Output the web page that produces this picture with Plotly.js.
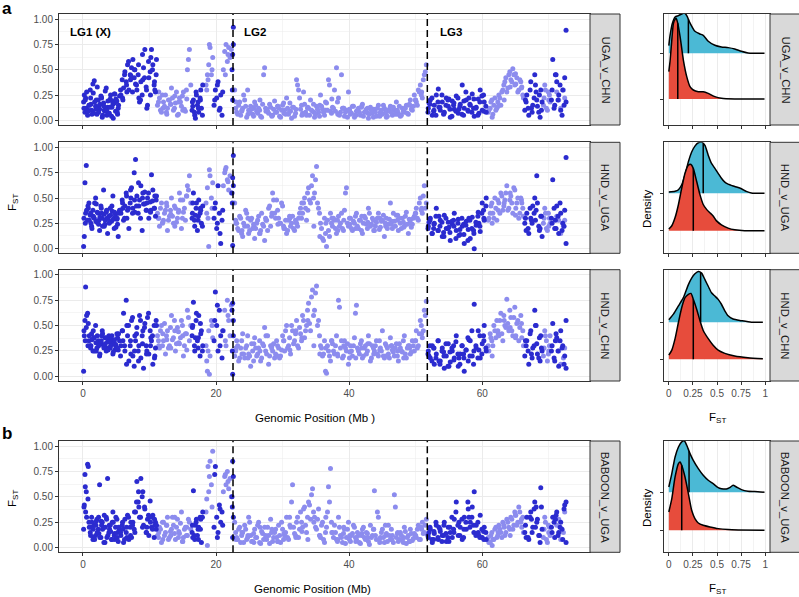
<!DOCTYPE html>
<html><head><meta charset="utf-8">
<script src="https://cdn.plot.ly/plotly-3.0.1.min.js"></script>
<style>html,body{margin:0;padding:0;background:#fff}#chart{width:799px;height:597px}</style>
</head><body><div id="chart"></div>
<script>
// ---- shared genomic window positions (Mb) ----
const darkPos=[0.1,0.2,0.3,0.4,0.5,0.7,0.9,1.1,1.3,1.5,1.7,1.9,2.1,2.3,2.5,2.7,2.9,3.1,3.3,3.5,3.7,3.9,4.1,4.3,4.5,4.7,4.9,5.1,5.3,5.5,0.8,1.2,1.6,2.0,2.4,2.8,3.2,3.6,4.0,4.4,4.8,5.2,
5.7,5.9,6.1,6.3,6.5,6.7,6.9,7.1,7.3,7.5,7.7,7.9,8.1,8.3,8.5,8.7,8.9,9.1,9.3,9.5,9.7,9.9,10.1,10.3,10.5,10.7,10.9,11.0,6.0,6.6,7.2,7.8,8.4,9.0,9.6,10.2,10.8,
16.4,16.6,16.8,17.0,17.2,17.4,17.6,17.8,18.0,16.5,16.9,17.3,17.7,
19.7,19.9,20.1,20.3,20.5,20.7,20.9,19.8,20.2,20.6,21.0,
22.4,22.5,22.6,22.5,22.6,22.45,
51.9,52.2,52.5,52.8,53.1,53.4,53.7,54.0,54.3,54.6,54.9,55.2,55.5,55.8,56.1,56.4,56.7,57.0,57.3,57.6,57.9,58.2,58.5,58.8,59.1,59.4,59.7,60.0,60.3,60.6,52.0,52.7,53.5,54.2,55.0,55.7,56.5,57.2,58.0,58.7,59.5,60.2,
66.4,66.7,67.0,67.3,67.6,67.9,68.2,68.5,68.8,69.0,66.6,67.4,68.1,68.7,
70.4,70.6,70.9,71.2,71.5,71.8,72.1,72.4,72.6,72.6,71.0,72.0];
const darkPos2=[0.15,0.35,0.55,0.75,0.95,1.15,1.35,1.55,1.75,1.95,2.15,2.35,2.55,2.75,2.95,3.15,3.35,3.55,3.75,3.95,4.15,4.35,4.55,4.75,4.95,5.15,5.35,
5.65,5.95,6.25,6.55,6.85,7.15,7.45,7.75,8.05,8.35,8.65,8.95,9.25,9.55,9.85,10.15,10.45,10.75,11.05,
51.85,52.15,52.45,52.75,53.05,53.35,53.65,53.95,54.25,54.55,54.85,55.15,55.45,55.75,56.05,56.35,56.65,56.95,57.25,57.55,57.85,58.15,58.45,58.75,59.05,59.35,59.65,59.95,60.25,60.55,
66.5,66.9,67.2,67.5,67.8,68.0,68.3,68.6,68.9,70.5,70.8,71.1,71.4,71.7,72.3,
16.45,16.75,17.05,17.35,17.65,17.95];
const lightPos=[11.2,11.5,11.8,12.1,12.4,12.7,13.0,13.3,13.6,13.9,14.2,14.5,14.8,15.1,15.4,15.7,16.0,16.2,11.4,12.0,12.6,13.2,13.8,14.4,15.0,15.6,
18.5,18.7,18.9,19.1,19.3,19.5,18.6,19.0,19.4,18.8,
21.1,21.3,21.5,21.7,21.9,22.1,22.3,21.4,21.8,
22.8,23.1,23.4,23.7,24.0,24.3,24.6,24.9,25.2,25.5,25.8,26.1,26.4,26.7,27.0,27.3,27.6,27.9,28.2,28.5,
28.8,29.1,29.4,29.7,30.0,30.3,30.6,30.9,31.2,31.5,31.8,32.1,32.4,32.7,33.0,33.3,33.6,33.9,34.2,34.5,
34.8,35.1,35.4,35.7,36.0,36.3,36.6,36.9,37.2,37.5,37.8,38.1,38.4,38.7,39.0,39.3,39.6,39.9,40.2,40.5,
40.8,41.1,41.4,41.7,42.0,42.3,42.6,42.9,43.2,43.5,43.8,44.1,44.4,44.7,45.0,45.3,45.6,45.9,46.2,46.5,
46.8,47.1,47.4,47.7,48.0,48.3,48.6,48.9,49.2,49.5,49.8,50.1,50.4,50.7,51.0,51.3,51.6,
23.0,23.9,24.8,25.7,26.6,27.5,28.4,29.3,30.2,31.1,32.0,32.9,33.8,34.7,35.6,36.5,37.4,38.3,39.2,40.1,41.0,41.9,42.8,43.7,44.6,45.5,46.4,47.3,48.2,49.1,50.0,50.9,
61.0,61.3,61.6,61.9,62.2,62.5,62.8,63.1,63.4,63.7,64.0,64.3,64.6,64.9,65.2,65.5,65.8,66.1,61.5,62.4,63.3,64.2,65.0,65.9,
69.2,69.5,69.8,70.1,69.4,70.0,71.2,71.8,72.4];
const lightPos2=[11.35,11.65,11.95,12.25,12.55,12.85,13.15,13.45,13.75,14.05,14.35,14.65,14.95,15.25,15.55,15.85,
22.95,23.25,23.55,23.85,24.15,24.45,24.75,25.05,25.35,25.65,25.95,26.25,26.55,26.85,27.15,27.45,27.75,28.05,28.35,28.65,
28.95,29.25,29.55,29.85,30.15,30.45,30.75,31.05,31.35,31.65,31.95,32.25,32.55,32.85,33.15,33.45,33.75,34.05,34.35,34.65,
34.95,35.25,35.55,35.85,36.15,36.45,36.75,37.05,37.35,37.65,37.95,38.25,38.55,38.85,39.15,39.45,39.75,40.05,40.35,40.65,
40.95,41.25,41.55,41.85,42.15,42.45,42.75,43.05,43.35,43.65,43.95,44.25,44.55,44.85,45.15,45.45,45.75,46.05,46.35,46.65,
46.95,47.25,47.55,47.85,48.15,48.45,48.75,49.05,49.35,49.65,49.95,50.25,50.55,50.85,51.15,51.45,
60.9,61.2,61.45,61.75,62.05,62.35,62.65,62.95,63.25,63.55,63.85,64.15,64.45,64.75,65.05,65.35,65.65,65.95,66.2,
69.3,69.65,69.95,70.2,71.5,72.2];

// ---- FST per comparison (dark scaffolds / light scaffolds) ----
const ugaChnDark=[0.18,0.25,0.08,0.22,0.12,0.05,0.15,0.30,0.10,0.36,0.39,0.14,0.06,0.20,0.11,0.24,0.03,0.17,0.09,0.32,0.13,0.07,0.21,0.04,0.16,0.26,0.09,0.19,0.12,0.24,0.10,0.16,0.07,0.20,0.14,0.22,0.10,0.05,0.13,0.19,0.26,0.06,
0.25,0.40,0.32,0.48,0.38,0.55,0.30,0.45,0.52,0.60,0.42,0.36,0.30,0.45,0.18,0.38,0.25,0.52,0.70,0.33,0.15,0.42,0.48,0.70,0.55,0.35,0.28,0.45,0.20,0.28,0.44,0.50,0.22,0.40,0.12,0.62,0.30,
0.10,0.20,0.05,0.28,0.15,0.08,0.22,0.12,0.35,0.14,0.02,0.18,0.30,
0.15,0.30,0.22,0.38,0.10,0.25,0.05,0.20,0.35,0.12,0.28,
0.50,0.65,0.92,0.20,0.75,0.30,
0.12,0.20,0.05,0.15,0.25,0.31,0.10,0.18,0.08,0.22,0.14,0.03,0.19,0.11,0.24,0.07,0.16,0.35,0.12,0.20,0.09,0.15,0.26,0.04,0.13,0.21,0.30,0.10,0.18,0.08,0.17,0.09,0.13,0.06,0.21,0.15,0.11,0.05,0.22,0.12,0.07,0.25,
0.10,0.25,0.05,0.38,0.15,0.45,0.20,0.08,0.30,0.18,0.18,0.12,0.28,0.03,
0.20,0.60,0.15,0.38,0.25,0.10,0.30,0.42,0.89,0.18,0.45,0.05];
const ugaChnDark2=[0.12,0.20,0.28,0.09,0.15,0.22,0.06,0.27,0.18,0.11,0.33,0.08,0.16,0.23,0.05,0.14,0.29,0.10,0.19,0.07,0.25,0.13,0.02,0.17,0.21,0.08,0.15,
0.30,0.22,0.45,0.35,0.58,0.40,0.28,0.50,0.35,0.55,0.20,0.65,0.42,0.30,0.58,0.25,0.50,0.38,0.60,
0.08,0.16,0.22,0.10,0.05,0.18,0.13,0.25,0.07,0.15,0.20,0.11,0.04,0.17,0.09,0.22,0.14,0.06,0.19,0.28,0.10,0.16,0.08,0.21,0.12,0.05,0.18,0.24,0.09,0.14,
0.20,0.12,0.30,0.08,0.22,0.35,0.14,0.25,0.10,0.30,0.12,0.45,0.20,0.35,0.15,
0.18,0.08,0.25,0.12,0.20,0.05];
const ugaChnLight=[0.15,0.22,0.08,0.18,0.25,0.12,0.20,0.32,0.10,0.17,0.05,0.22,0.14,0.28,0.09,0.50,0.70,0.35,0.28,0.12,0.06,0.16,0.24,0.18,0.10,0.21,
0.35,0.45,0.55,0.72,0.45,0.62,0.30,0.75,0.50,0.40,
0.50,0.68,0.75,0.58,0.72,0.62,0.70,0.45,0.65,
0.30,0.08,0.15,0.05,0.12,0.20,0.03,0.10,0.14,0.06,0.18,0.09,0.12,0.04,0.16,0.52,0.11,0.07,0.13,0.05,
0.19,0.08,0.12,0.03,0.15,0.10,0.22,0.06,0.09,0.13,0.04,0.40,0.30,0.11,0.07,0.16,0.05,0.12,0.20,0.09,
0.03,0.14,0.08,0.25,0.11,0.05,0.17,0.40,0.09,0.13,0.30,0.52,0.22,0.08,0.12,0.04,0.10,0.28,0.06,0.14,
0.03,0.09,0.12,0.05,0.16,0.08,0.11,0.02,0.13,0.07,0.10,0.04,0.15,0.08,0.06,0.12,0.03,0.09,0.14,0.05,
0.10,0.18,0.07,0.04,0.12,0.08,0.15,0.06,0.20,0.10,0.25,0.18,0.30,0.35,0.22,0.45,0.55,
0.18,0.10,0.06,0.12,0.20,0.09,0.04,0.14,0.07,0.17,0.11,0.05,0.13,0.08,0.15,0.10,0.21,0.06,0.12,0.09,0.05,0.14,0.07,0.11,0.04,0.10,0.13,0.06,0.09,0.15,0.20,0.28,
0.10,0.18,0.06,0.22,0.12,0.25,0.15,0.30,0.38,0.28,0.45,0.40,0.51,0.35,0.42,0.30,0.38,0.25,0.03,0.14,0.20,0.33,0.46,0.32,
0.15,0.30,0.10,0.25,0.35,0.20,0.28,0.12,0.22];
const ugaChnLight2=[0.18,0.10,0.25,0.14,0.08,0.20,0.16,0.22,0.12,0.28,0.06,0.18,0.24,0.11,0.30,0.60,
0.12,0.06,0.18,0.09,0.25,0.14,0.30,0.08,0.11,0.04,0.15,0.07,0.10,0.03,0.45,0.12,0.09,0.16,0.05,0.11,
0.08,0.14,0.04,0.10,0.17,0.06,0.12,0.09,0.02,0.13,0.07,0.35,0.22,0.15,0.28,0.08,0.12,0.05,0.10,0.16,
0.06,0.11,0.04,0.14,0.08,0.18,0.10,0.35,0.07,0.12,0.09,0.18,0.05,0.45,0.12,0.08,0.03,0.11,0.07,0.14,
0.05,0.10,0.08,0.13,0.04,0.09,0.12,0.06,0.10,0.03,0.08,0.12,0.05,0.10,0.15,0.07,0.04,0.11,0.08,0.13,
0.06,0.10,0.14,0.05,0.09,0.12,0.07,0.16,0.11,0.14,0.20,0.15,0.28,0.25,0.40,0.48,
0.08,0.12,0.20,0.15,0.10,0.18,0.22,0.28,0.35,0.42,0.32,0.48,0.38,0.45,0.36,0.28,0.40,0.33,0.22,
0.22,0.12,0.28,0.18,0.20,0.30];

const hndUgaDark=[0.02,0.12,0.65,0.35,0.82,0.28,0.45,0.33,0.22,0.38,0.30,0.50,0.26,0.35,0.18,0.42,0.30,0.58,0.24,0.36,0.15,0.32,0.40,0.27,0.52,0.20,0.34,0.29,0.12,0.38,0.40,0.25,0.31,0.44,0.28,0.35,0.22,0.30,0.26,0.37,0.31,0.24,
0.35,0.48,0.28,0.42,0.55,0.38,0.20,0.45,0.60,0.40,0.75,0.88,0.52,0.35,0.48,0.62,0.18,0.44,0.56,0.38,0.50,0.30,0.46,0.73,0.58,0.40,0.32,0.48,0.40,0.30,0.50,0.36,0.42,0.55,0.45,0.38,0.52,
0.30,0.55,0.22,0.40,0.18,0.48,0.35,0.25,0.42,0.45,0.33,0.28,0.38,
0.30,0.45,0.20,0.62,0.35,0.05,0.28,0.40,0.25,0.15,0.38,
0.55,0.70,0.92,0.03,0.62,0.45,
0.22,0.30,0.15,0.25,0.40,0.18,0.28,0.12,0.33,0.20,0.26,0.08,0.24,0.35,0.18,0.29,0.14,0.22,0.05,0.27,0.19,0.10,0.31,0.00,0.23,0.36,0.17,0.45,0.28,0.50,0.26,0.20,0.32,0.16,0.21,0.28,0.13,0.24,0.30,0.18,0.25,0.38,
0.25,0.35,0.15,0.30,0.42,0.50,0.72,0.22,0.32,0.12,0.18,0.28,0.38,0.20,
0.30,0.68,0.20,0.42,0.15,0.35,0.25,0.38,0.90,0.05,0.28,0.18];
const hndUgaDark2=[0.30,0.25,0.38,0.42,0.28,0.35,0.20,0.32,0.45,0.27,0.36,0.24,0.31,0.40,0.22,0.34,0.28,0.38,0.30,0.25,0.33,0.42,0.29,0.36,0.21,0.30,0.35,
0.38,0.45,0.30,0.52,0.40,0.58,0.35,0.48,0.42,0.65,0.30,0.50,0.44,0.38,0.55,0.36,0.47,0.40,0.52,
0.20,0.28,0.15,0.24,0.32,0.18,0.22,0.26,0.12,0.30,0.20,0.16,0.27,0.22,0.10,0.25,0.19,0.30,0.14,0.23,0.08,0.28,0.20,0.15,0.26,0.32,0.22,0.35,0.30,0.42,
0.30,0.20,0.40,0.25,0.35,0.28,0.45,0.18,0.32,0.25,0.40,0.20,0.32,0.45,0.22,
0.35,0.28,0.45,0.32,0.40,0.22];
const hndUgaLight=[0.35,0.22,0.45,0.28,0.38,0.18,0.32,0.50,0.25,0.40,0.30,0.55,0.20,0.36,0.28,0.62,0.72,0.45,0.30,0.26,0.42,0.34,0.22,0.38,0.48,0.52,
0.45,0.60,0.02,0.72,0.50,0.65,0.35,0.78,0.40,0.30,
0.62,0.75,0.80,0.68,0.58,0.72,0.55,0.78,0.66,
0.45,0.25,0.18,0.30,0.12,0.22,0.35,0.15,0.28,0.20,0.10,0.25,0.32,0.18,0.24,0.08,0.28,0.40,0.22,0.55,
0.35,0.48,0.30,0.25,0.42,0.20,0.15,0.28,0.22,0.32,0.18,0.25,0.30,0.40,0.35,0.50,0.28,0.60,0.45,0.72,
0.55,0.81,0.40,0.25,0.10,0.30,0.02,0.18,0.35,0.22,0.28,0.15,0.32,0.25,0.20,0.38,0.60,0.22,0.30,0.18,
0.25,0.35,0.20,0.28,0.15,0.32,0.24,0.40,0.22,0.30,0.18,0.26,0.35,0.21,0.28,0.12,0.30,0.24,0.45,0.20,
0.27,0.33,0.18,0.25,0.30,0.22,0.36,0.15,0.28,0.24,0.32,0.40,0.28,0.50,0.35,0.62,0.45,
0.25,0.18,0.30,0.22,0.15,0.28,0.35,0.24,0.20,0.30,0.26,0.45,0.38,0.22,0.12,0.25,0.30,0.18,0.28,0.24,0.20,0.32,0.26,0.18,0.30,0.22,0.27,0.33,0.21,0.25,0.35,0.40,
0.30,0.42,0.35,0.50,0.28,0.45,0.55,0.38,0.48,0.62,0.40,0.52,0.35,0.58,0.45,0.30,0.50,0.40,0.25,0.38,0.45,0.55,0.33,0.48,
0.25,0.35,0.18,0.30,0.40,0.22,0.32,0.15,0.28];
const hndUgaLight2=[0.30,0.40,0.25,0.35,0.45,0.28,0.38,0.32,0.42,0.26,0.36,0.48,0.30,0.40,0.52,0.58,
0.28,0.20,0.32,0.15,0.25,0.38,0.22,0.18,0.30,0.24,0.20,0.28,0.15,0.35,0.22,0.30,0.18,0.42,0.32,0.48,
0.30,0.38,0.25,0.45,0.22,0.28,0.18,0.32,0.25,0.20,0.28,0.22,0.35,0.30,0.45,0.40,0.55,0.48,0.62,0.50,
0.68,0.45,0.35,0.20,0.08,0.15,0.28,0.12,0.25,0.30,0.20,0.28,0.22,0.35,0.18,0.55,0.25,0.30,0.20,0.27,
0.32,0.22,0.28,0.18,0.25,0.30,0.20,0.35,0.24,0.28,0.22,0.30,0.19,0.27,0.33,0.25,0.20,0.29,0.24,0.35,
0.22,0.28,0.30,0.20,0.26,0.32,0.24,0.29,0.21,0.30,0.35,0.30,0.45,0.38,0.52,0.40,
0.28,0.35,0.45,0.30,0.40,0.48,0.35,0.52,0.42,0.55,0.38,0.48,0.45,0.60,0.40,0.50,0.35,0.45,0.32,
0.30,0.20,0.35,0.25,0.28,0.22];

const hndChnDark=[0.05,0.40,0.55,0.88,0.48,0.62,0.35,0.30,0.42,0.25,0.38,0.50,0.28,0.35,0.20,0.32,0.45,0.30,0.38,0.25,0.34,0.40,0.28,0.36,0.22,0.33,0.30,0.42,0.26,0.35,0.52,0.30,0.38,0.25,0.34,0.40,0.30,0.28,0.36,0.32,0.26,0.38,
0.30,0.45,0.62,0.25,0.75,0.40,0.15,0.30,0.55,0.20,0.10,0.35,0.48,0.25,0.60,0.18,0.40,0.08,0.52,0.30,0.58,0.22,0.45,0.35,0.12,0.50,0.28,0.55,0.35,0.50,0.22,0.40,0.30,0.45,0.25,0.38,0.20,
0.40,0.73,0.25,0.55,0.35,0.60,0.20,0.45,0.30,0.50,0.38,0.28,0.42,
0.35,0.83,0.50,0.25,0.65,0.40,0.18,0.55,0.70,0.30,0.45,
0.65,0.72,0.55,0.02,0.40,0.25,
0.25,0.18,0.30,0.12,0.22,0.35,0.15,0.28,0.08,0.20,0.32,0.14,0.25,0.18,0.40,0.10,0.22,0.30,0.05,0.26,0.15,0.35,0.20,0.71,0.28,0.45,0.18,0.32,0.50,0.25,0.20,0.28,0.15,0.24,0.10,0.30,0.18,0.22,0.36,0.12,0.26,0.40,
0.20,0.35,0.12,0.45,0.28,0.65,0.32,0.18,0.40,0.25,0.30,0.22,0.50,0.15,
0.25,0.52,0.15,0.38,0.10,0.45,0.30,0.20,0.55,0.08,0.35,0.28];
const hndChnDark2=[0.45,0.35,0.60,0.30,0.40,0.28,0.36,0.45,0.25,0.33,0.40,0.30,0.22,0.35,0.42,0.28,0.32,0.38,0.26,0.34,0.30,0.40,0.24,0.36,0.31,0.28,0.42,
0.20,0.45,0.30,0.12,0.50,0.35,0.58,0.25,0.42,0.15,0.55,0.32,0.48,0.22,0.62,0.30,0.40,0.18,0.50,
0.22,0.30,0.15,0.28,0.18,0.35,0.12,0.25,0.20,0.32,0.10,0.24,0.28,0.16,0.34,0.22,0.12,0.30,0.18,0.26,0.38,0.20,0.45,0.25,0.30,0.18,0.40,0.22,0.35,0.28,
0.35,0.25,0.42,0.18,0.30,0.50,0.22,0.38,0.28,0.30,0.18,0.42,0.25,0.35,0.12,
0.48,0.30,0.62,0.38,0.52,0.25];
const hndChnLight=[0.40,0.28,0.50,0.35,0.22,0.45,0.30,0.60,0.38,0.25,0.48,0.32,0.55,0.20,0.42,0.65,0.35,0.50,0.30,0.42,0.36,0.28,0.45,0.33,0.40,0.26,
0.30,0.05,0.45,0.20,0.55,0.38,0.15,0.02,0.50,0.25,
0.45,0.65,0.30,0.75,0.55,0.40,0.70,0.35,0.60,
0.20,0.35,0.15,0.28,0.42,0.18,0.30,0.22,0.10,0.25,0.38,0.20,0.28,0.15,0.32,0.48,0.22,0.12,0.30,0.25,
0.18,0.35,0.28,0.20,0.40,0.25,0.50,0.30,0.22,0.45,0.35,0.55,0.28,0.42,0.60,0.38,0.50,0.72,0.45,0.85,
0.65,0.89,0.55,0.30,0.20,0.35,0.03,0.25,0.15,0.32,0.22,0.40,0.75,0.28,0.18,0.35,0.25,0.12,0.30,0.20,
0.38,0.70,0.25,0.32,0.18,0.28,0.22,0.40,0.15,0.30,0.25,0.35,0.20,0.28,0.45,0.18,0.30,0.22,0.38,0.26,
0.20,0.32,0.15,0.28,0.24,0.40,0.18,0.30,0.22,0.35,0.25,0.45,0.30,0.55,0.38,0.65,0.74,
0.28,0.22,0.18,0.32,0.25,0.40,0.30,0.20,0.35,0.26,0.45,0.38,0.55,0.30,0.22,0.28,0.35,0.20,0.30,0.24,0.18,0.28,0.32,0.22,0.26,0.20,0.30,0.25,0.18,0.28,0.35,0.42,
0.25,0.38,0.30,0.45,0.55,0.40,0.62,0.35,0.50,0.76,0.45,0.58,0.40,0.68,0.52,0.35,0.60,0.45,0.20,0.42,0.55,0.48,0.38,0.52,
0.20,0.40,0.15,0.30,0.45,0.25,0.35,0.12,0.28];
const hndChnLight2=[0.35,0.45,0.30,0.52,0.40,0.28,0.48,0.36,0.55,0.32,0.44,0.38,0.50,0.30,0.42,0.58,
0.25,0.30,0.18,0.35,0.22,0.28,0.40,0.20,0.32,0.15,0.28,0.22,0.35,0.18,0.30,0.25,0.40,0.20,0.28,0.32,
0.22,0.30,0.18,0.26,0.35,0.45,0.28,0.38,0.50,0.32,0.42,0.30,0.48,0.35,0.55,0.45,0.65,0.52,0.78,0.60,
0.82,0.50,0.40,0.28,0.22,0.05,0.30,0.20,0.35,0.25,0.30,0.22,0.68,0.35,0.20,0.28,0.32,0.18,0.25,0.30,
0.62,0.28,0.22,0.35,0.20,0.30,0.25,0.32,0.18,0.28,0.30,0.22,0.35,0.25,0.20,0.32,0.28,0.18,0.30,0.24,
0.28,0.20,0.32,0.25,0.35,0.22,0.28,0.30,0.24,0.30,0.35,0.28,0.42,0.50,0.45,0.60,
0.30,0.42,0.35,0.50,0.38,0.45,0.55,0.42,0.60,0.48,0.52,0.65,0.45,0.58,0.40,0.55,0.48,0.38,0.30,
0.28,0.35,0.22,0.40,0.25,0.18];

const babUgaDark=[0.18,0.42,0.72,0.35,0.55,0.82,0.25,0.15,0.30,0.08,0.22,0.12,0.28,0.18,0.62,0.10,0.25,0.20,0.05,0.30,0.68,0.15,0.22,0.08,0.35,0.12,0.20,0.28,0.06,0.18,0.80,0.20,0.10,0.26,0.14,0.22,0.32,0.10,0.18,0.25,0.08,0.15,
0.12,0.22,0.05,0.28,0.15,0.32,0.08,0.20,0.10,0.25,0.18,0.35,0.65,0.45,0.30,0.68,0.50,0.22,0.38,0.15,0.28,0.12,0.46,0.20,0.32,0.10,0.25,0.18,0.18,0.10,0.25,0.15,0.40,0.55,0.20,0.30,0.22,
0.15,0.56,0.08,0.25,0.12,0.20,0.30,0.05,0.35,0.10,0.22,0.18,0.28,
0.20,0.80,0.30,0.15,0.42,0.25,0.35,0.72,0.10,0.38,0.22,
0.50,0.85,0.70,0.10,0.30,0.40,
0.10,0.18,0.05,0.14,0.22,0.08,0.16,0.12,0.25,0.06,0.20,0.15,0.10,0.28,0.45,0.12,0.20,0.08,0.30,0.18,0.38,0.25,0.40,0.55,0.22,0.15,0.32,0.10,0.20,0.08,0.15,0.08,0.20,0.12,0.06,0.18,0.25,0.10,0.30,0.22,0.12,0.16,
0.15,0.30,0.08,0.35,0.20,0.45,0.25,0.12,0.59,0.18,0.10,0.28,0.40,0.05,
0.20,0.30,0.10,0.35,0.15,0.25,0.08,0.42,0.45,0.05,0.28,0.18];
const babUgaDark2=[0.40,0.60,0.30,0.48,0.20,0.12,0.25,0.18,0.08,0.22,0.15,0.30,0.10,0.26,0.18,0.05,0.20,0.28,0.12,0.22,0.16,0.08,0.25,0.14,0.30,0.10,0.20,
0.15,0.25,0.08,0.20,0.30,0.12,0.22,0.35,0.45,0.55,0.30,0.20,0.40,0.15,0.32,0.25,0.18,0.28,0.22,
0.12,0.20,0.08,0.16,0.25,0.10,0.18,0.06,0.22,0.14,0.10,0.20,0.30,0.15,0.35,0.22,0.12,0.28,0.18,0.25,0.45,0.20,0.30,0.15,0.12,0.25,0.10,0.18,0.08,0.15,
0.22,0.10,0.30,0.15,0.38,0.20,0.28,0.12,0.40,0.15,0.25,0.32,0.12,0.20,0.38,
0.22,0.12,0.28,0.08,0.18,0.30];
const babUgaLight=[0.12,0.20,0.05,0.25,0.15,0.30,0.10,0.18,0.22,0.08,0.28,0.14,0.35,0.10,0.20,0.12,0.25,0.18,0.15,0.08,0.22,0.12,0.30,0.16,0.06,0.20,
0.35,0.02,0.55,0.85,0.62,0.95,0.48,0.70,0.40,0.80,
0.55,0.70,0.62,0.75,0.58,0.68,0.50,0.72,0.65,
0.25,0.10,0.18,0.05,0.15,0.22,0.08,0.30,0.12,0.06,0.18,0.10,0.25,0.04,0.14,0.20,0.08,0.12,0.28,0.06,
0.15,0.10,0.22,0.05,0.18,0.12,0.30,0.08,0.20,0.62,0.14,0.25,0.10,0.35,0.20,0.40,0.15,0.45,0.28,0.58,
0.30,0.18,0.38,0.10,0.25,0.05,0.20,0.60,0.78,0.15,0.22,0.08,0.30,0.12,0.05,0.18,0.10,0.25,0.06,0.14,
0.20,0.08,0.12,0.04,0.18,0.10,0.15,0.06,0.22,0.12,0.56,0.08,0.30,0.10,0.18,0.05,0.14,0.22,0.08,0.12,
0.52,0.10,0.06,0.15,0.08,0.20,0.04,0.12,0.18,0.07,0.14,0.10,0.22,0.08,0.25,0.15,0.28,
0.08,0.15,0.12,0.05,0.20,0.10,0.18,0.06,0.14,0.22,0.10,0.16,0.08,0.25,0.12,0.30,0.15,0.08,0.20,0.12,0.06,0.14,0.10,0.18,0.05,0.12,0.08,0.15,0.10,0.06,0.12,0.18,
0.05,0.12,0.08,0.18,0.10,0.22,0.15,0.25,0.12,0.28,0.20,0.30,0.18,0.35,0.22,0.40,0.25,0.30,0.02,0.15,0.20,0.12,0.32,0.28,
0.10,0.25,0.05,0.20,0.30,0.15,0.22,0.08,0.35];
const babUgaLight2=[0.10,0.18,0.25,0.12,0.22,0.08,0.16,0.30,0.14,0.20,0.10,0.24,0.06,0.18,0.12,0.28,
0.15,0.08,0.20,0.12,0.05,0.18,0.10,0.25,0.06,0.14,0.10,0.22,0.05,0.16,0.08,0.12,0.20,0.04,0.15,0.10,
0.18,0.06,0.12,0.25,0.08,0.15,0.10,0.30,0.45,0.20,0.12,0.30,0.18,0.25,0.38,0.22,0.30,0.42,0.52,0.35,
0.20,0.28,0.12,0.22,0.08,0.15,0.35,0.45,0.25,0.10,0.15,0.06,0.20,0.10,0.14,0.04,0.18,0.08,0.12,0.22,
0.10,0.15,0.05,0.12,0.20,0.08,0.14,0.03,0.10,0.18,0.12,0.35,0.08,0.15,0.10,0.22,0.06,0.12,0.18,0.05,
0.40,0.14,0.08,0.12,0.05,0.16,0.10,0.06,0.14,0.09,0.12,0.18,0.08,0.20,0.14,0.22,
0.10,0.05,0.15,0.08,0.20,0.12,0.18,0.10,0.22,0.15,0.25,0.18,0.28,0.22,0.32,0.25,0.35,0.20,0.15,
0.18,0.08,0.22,0.12,0.28,0.15];

// ---- density ridges (x = FST, h = ridge height) ; blue = upper ridge, red = lower ridge ----
const ugaChnBlueX=[0,0.014,0.038,0.065,0.100,0.134,0.162,0.186,0.220,0.271,0.323,0.357,0.409,0.478,0.546,0.615,0.684,0.753,0.821,0.890,0.993];
const ugaChnBlueH=[0.168,0.408,0.664,0.795,0.824,0.861,0.883,0.824,0.664,0.481,0.423,0.394,0.263,0.175,0.139,0.124,0.095,0.044,0.007,0,0];
const ugaChnRedX=[0,0.014,0.031,0.048,0.065,0.076,0.093,0.117,0.151,0.186,0.220,0.254,0.306,0.357,0.409,0.478,0.546,0.684,0.993];
const ugaChnRedH=[0.598,0.853,1.291,1.656,1.743,1.765,1.656,1.364,0.853,0.489,0.270,0.197,0.160,0.160,0.124,0.051,0.015,0,0];
const hndUgaBlueX=[0,0.065,0.1,0.134,0.168,0.203,0.237,0.271,0.306,0.340,0.375,0.409,0.443,0.478,0.512,0.546,0.581,0.615,0.684,0.753,0.804,0.856,0.993];
const hndUgaBlueH=[0.035,0.053,0.096,0.228,0.491,0.842,1.105,1.263,1.351,1.368,1.281,1.018,0.798,0.667,0.535,0.404,0.298,0.246,0.184,0.123,0.053,0.009,0];
const hndUgaRedX=[0,0.031,0.065,0.1,0.134,0.168,0.203,0.230,0.254,0.289,0.323,0.357,0.392,0.426,0.460,0.495,0.546,0.615,0.684,0.787,0.993];
const hndUgaRedH=[0.044,0.132,0.351,0.702,1.14,1.535,1.754,1.772,1.667,1.316,0.965,0.702,0.570,0.482,0.395,0.263,0.158,0.070,0.026,0,0];
const hndChnBlueX=[0,0.048,0.1,0.151,0.203,0.237,0.271,0.306,0.340,0.375,0.409,0.443,0.478,0.512,0.546,0.581,0.615,0.667,0.753,0.856,0.976];
const hndChnBlueH=[0.071,0.221,0.442,0.664,1.018,1.195,1.31,1.372,1.327,1.150,0.973,0.796,0.708,0.619,0.487,0.310,0.177,0.088,0.044,0,0];
const hndChnRedX=[0,0.031,0.065,0.1,0.134,0.168,0.203,0.230,0.254,0.289,0.323,0.357,0.409,0.460,0.512,0.581,0.684,0.821,0.976];
const hndChnRedH=[0.115,0.248,0.558,1.0,1.398,1.664,1.752,1.779,1.62,1.354,1.044,0.779,0.558,0.381,0.248,0.159,0.088,0.044,0.018];
const babUgaBlueX=[0,0.031,0.065,0.1,0.134,0.162,0.186,0.220,0.254,0.306,0.357,0.409,0.460,0.512,0.546,0.598,0.632,0.667,0.701,0.753,0.821,0.890,0.993];
const babUgaBlueH=[0.14,0.491,0.93,1.193,1.325,1.351,1.237,1.018,0.842,0.623,0.447,0.316,0.228,0.123,0.096,0.088,0.123,0.184,0.140,0.070,0.026,0.018,0];
const babUgaRedX=[0,0.031,0.065,0.1,0.117,0.134,0.168,0.203,0.237,0.271,0.306,0.357,0.426,0.512,0.615,0.718,0.993];
const babUgaRedH=[0.482,0.833,1.404,1.754,1.798,1.711,1.404,0.965,0.526,0.307,0.193,0.132,0.088,0.044,0.018,0.009,0];
const blueMedian=[0.203,0.357,0.330,0.210];
const redMedian=[0.093,0.254,0.254,0.134];

const comparisons=['UGA_v_CHN','HND_v_UGA','HND_v_CHN','BABOON_v_UGA'];
const chromLabels=['LG1 (X)','LG2','LG3'];
const chromLabelPos=[-2.2,23.9,53.3];
const chromBreaks=[22.55,51.75];
const densTickVals=[0,0.25,0.5,0.75,1];
const densTickText=['0','0.25','0.5','0.75','1'];

// ---- build ----
const W=799,H=597;
const FONT='"Liberation Sans", Arial, Helvetica, sans-serif';
const DARK='#2B2BCF', LIGHT='#8C8CEE', RIDGE_BLUE='#4BB9D5', RIDGE_RED='#E74C3C';
const darkF=[ugaChnDark.concat(ugaChnDark2),hndUgaDark.concat(hndUgaDark2),hndChnDark.concat(hndChnDark2),babUgaDark.concat(babUgaDark2)];
const lightF=[ugaChnLight.concat(ugaChnLight2),hndUgaLight.concat(hndUgaLight2),hndChnLight.concat(hndChnLight2),babUgaLight.concat(babUgaLight2)];
const darkX=darkPos.concat(darkPos2), lightX=lightPos.concat(lightPos2);
const dens=[[ugaChnBlueX,ugaChnBlueH,ugaChnRedX,ugaChnRedH],[hndUgaBlueX,hndUgaBlueH,hndUgaRedX,hndUgaRedH],[hndChnBlueX,hndChnBlueH,hndChnRedX,hndChnRedH],[babUgaBlueX,babUgaBlueH,babUgaRedX,babUgaRedH]];
const panelPx=[[14,125],[142.3,253.3],[269.7,381],[441,552.3]];
const densRange=[[0.431,2.86],[0.396,3.364],[0.414,3.42],[0.421,3.35]];
const px=v=>v/W, py=v=>1-v/H;
function interp(xs,hs,x){for(let i=1;i<xs.length;i++){if(x<=xs[i]){const t=(x-xs[i-1])/(xs[i]-xs[i-1]);return hs[i-1]+t*(hs[i]-hs[i-1]);}}return hs[hs.length-1];}

const traces=[];
const layout={width:W,height:H,margin:{l:0,r:0,t:0,b:0},paper_bgcolor:'#fff',plot_bgcolor:'#fff',showlegend:false,
  font:{family:FONT,size:10,color:'#4d4d4d'},shapes:[],annotations:[]};
const GRID='#EBEBEB', LINE='#333333';
for(let i=0;i<4;i++){
  const n1=i+1,n2=i+5;
  const sx='x'+n1, sy='y'+n1, dx='x'+n2, dy='y'+n2;
  const dom=[py(panelPx[i][1]),py(panelPx[i][0])];
  const lab=(i>=2);
  layout['xaxis'+n1]={domain:[px(59),px(590)],anchor:sy,range:[-3.6,76.2],tickmode:'linear',tick0:0,dtick:20,ticks:'outside',ticklen:3,tickwidth:1,tickcolor:LINE,
    showticklabels:lab,tickfont:{size:10,color:'#4d4d4d'},showgrid:true,gridcolor:GRID,gridwidth:1,
    minor:{dtick:10,tick0:0,showgrid:true,gridcolor:GRID,gridwidth:0.5,ticks:''},zeroline:false,showline:true,mirror:true,linecolor:LINE,linewidth:1,fixedrange:true};
  layout['yaxis'+n1]={domain:dom,anchor:sx,range:[-0.046,1.05],tickmode:'linear',tick0:0,dtick:0.25,tickformat:'.2f',ticks:'outside',ticklen:3,tickwidth:1,tickcolor:LINE,
    tickfont:{size:10,color:'#4d4d4d'},showgrid:true,gridcolor:GRID,gridwidth:1,
    minor:{dtick:0.125,tick0:0,showgrid:true,gridcolor:GRID,gridwidth:0.5,ticks:''},zeroline:false,showline:true,mirror:true,linecolor:LINE,linewidth:1,fixedrange:true};
  layout['xaxis'+n2]={domain:[px(664),px(770)],anchor:dy,range:[-0.05,1.05],tickmode:'array',tickvals:densTickVals,ticktext:densTickText,ticks:'outside',ticklen:3,tickwidth:1,tickcolor:LINE,
    showticklabels:lab,tickfont:{size:10,color:'#4d4d4d'},showgrid:true,gridcolor:GRID,gridwidth:1,
    minor:{tickmode:'array',tickvals:[0.125,0.375,0.625,0.875],showgrid:true,gridcolor:GRID,gridwidth:0.6,ticks:''},zeroline:false,showline:true,mirror:true,linecolor:LINE,linewidth:1,fixedrange:true};
  layout['yaxis'+n2]={domain:dom,anchor:dx,range:densRange[i],tickmode:'array',tickvals:[1,2],showticklabels:false,ticks:'outside',ticklen:3,tickwidth:1,tickcolor:LINE,
    showgrid:false,zeroline:false,showline:true,mirror:true,linecolor:LINE,linewidth:1,fixedrange:true};

  // scatter points
  traces.push({type:'scatter',mode:'markers',x:lightX,y:lightF[i],xaxis:sx,yaxis:sy,marker:{size:5,color:LIGHT},hoverinfo:'skip'});
  traces.push({type:'scatter',mode:'markers',x:darkX,y:darkF[i],xaxis:sx,yaxis:sy,marker:{size:5,color:DARK},hoverinfo:'skip'});

  // ridges
  const [bx,bh,rx,rh]=dens[i];
  const ridge=(xs,hs,base,col,med)=>{
    traces.push({type:'scatter',mode:'lines',x:[xs[0],xs[xs.length-1]],y:[base,base],xaxis:dx,yaxis:dy,line:{width:0,color:'rgba(0,0,0,0)'},hoverinfo:'skip'});
    traces.push({type:'scatter',mode:'lines',x:xs,y:hs.map(h=>base+h),xaxis:dx,yaxis:dy,fill:'tonexty',fillcolor:col,line:{color:'#000',width:1.5,shape:'spline',smoothing:0.6},hoverinfo:'skip'});
    traces.push({type:'scatter',mode:'lines',x:[med,med],y:[base,base+interp(xs,hs,med)],xaxis:dx,yaxis:dy,line:{color:'#000',width:1.5},hoverinfo:'skip'});
  };
  ridge(bx,bh,2,RIDGE_BLUE,blueMedian[i]);
  ridge(rx,rh,1,RIDGE_RED,redMedian[i]);

  // chromosome breaks
  chromBreaks.forEach(b=>layout.shapes.push({type:'line',xref:sx,yref:sy+' domain',x0:b,x1:b,y0:0,y1:1,line:{color:'#000',width:1.5,dash:'7px,4px'}}));
  // strips
  layout.shapes.push({type:'rect',xref:'paper',yref:'paper',x0:px(590),x1:px(620),y0:dom[0],y1:dom[1],fillcolor:'#D9D9D9',line:{color:LINE,width:1}});
  layout.shapes.push({type:'rect',xref:'paper',yref:'paper',x0:px(770),x1:px(799.5),y0:dom[0],y1:dom[1],fillcolor:'#D9D9D9',line:{color:LINE,width:1}});
  const mid=(dom[0]+dom[1])/2;
  [605,785].forEach(xp=>layout.annotations.push({xref:'paper',yref:'paper',x:px(xp),y:mid,text:comparisons[i],textangle:90,showarrow:false,font:{size:11.3,color:'#1a1a1a'},xanchor:'center',yanchor:'middle'}));
}
// chromosome labels (top panel)
chromLabels.forEach((t,k)=>layout.annotations.push({xref:'x1',yref:'paper',x:chromLabelPos[k],y:py(32),text:'<b>'+t+'</b>',showarrow:false,xanchor:'left',yanchor:'middle',font:{size:11.5,color:'#000'}}));
// panel tags
layout.annotations.push({xref:'paper',yref:'paper',x:px(0),y:py(8),text:'<b>a</b>',showarrow:false,xanchor:'left',yanchor:'middle',font:{size:17,color:'#000'}});
layout.annotations.push({xref:'paper',yref:'paper',x:px(0),y:py(433),text:'<b>b</b>',showarrow:false,xanchor:'left',yanchor:'middle',font:{size:17,color:'#000'}});
// axis titles
const T={size:11.5,color:'#000'};
[[203],[499]].forEach(([yy])=>layout.annotations.push({xref:'paper',yref:'paper',x:px(13),y:py(yy),text:'F<sub>ST</sub>',textangle:-90,showarrow:false,xanchor:'center',yanchor:'middle',font:T}));
[[209],[508]].forEach(([yy])=>layout.annotations.push({xref:'paper',yref:'paper',x:px(647),y:py(yy),text:'Density',textangle:-90,showarrow:false,xanchor:'center',yanchor:'middle',font:T}));
layout.annotations.push({xref:'paper',yref:'paper',x:px(315),y:py(418),text:'Genomic Position (Mb )',showarrow:false,xanchor:'center',yanchor:'middle',font:T});
layout.annotations.push({xref:'paper',yref:'paper',x:px(312),y:py(589),text:'Genomic Position (Mb)',showarrow:false,xanchor:'center',yanchor:'middle',font:T});
[[418],[589]].forEach(([yy])=>layout.annotations.push({xref:'paper',yref:'paper',x:px(717),y:py(yy),text:'F<sub>ST</sub>',showarrow:false,xanchor:'center',yanchor:'middle',font:T}));

Plotly.newPlot('chart',traces,layout,{displayModeBar:false,staticPlot:true});
</script>
</body></html>
